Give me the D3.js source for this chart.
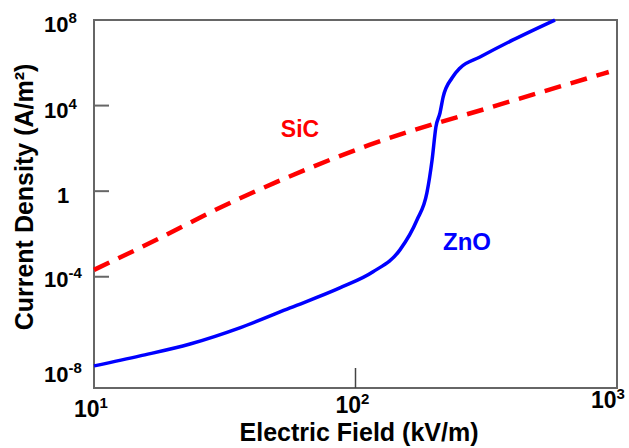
<!DOCTYPE html>
<html>
<head>
<meta charset="utf-8">
<script src="https://cdn.jsdelivr.net/npm/d3@7"></script>
<style>
  body { margin: 0; background: #fff; }
  text { font-family: "Liberation Sans", Arial, sans-serif; font-weight: bold; }
</style>
</head>
<body>
<div id="viz"></div>
<script>
// SiC curve (kV/m, A/m^2)
var sicField = [10, 17.9, 29, 50, 113, 355, 930];
var sicDensity = [2.1e-4, 6.5e-3, 0.13, 2.7, 145, 1.1e4, 3.7e5];

// ZnO curve
var znoField = [10, 15, 23.3, 36.1, 56.2, 87.1, 116.7, 147.9, 171.8, 187.5, 196.3, 203, 210.4, 216.3, 233.9, 251.2, 299.2, 400, 579];
var znoDensity = [6.8e-9, 2.0e-8, 7.2e-8, 4.1e-7, 3.5e-6, 3.0e-5, 1.7e-4, 1.8e-3, 0.045, 0.83, 29, 1e3, 4.5e3, 2.5e4, 1.95e5, 5.75e5, 1.86e6, 1.17e7, 1e8];

// ticks
var xTickVals = [10, 100, 1000];
var xTickExp = ["1", "2", "3"];
var yTickVals = [1e8, 1e4, 1, 1e-4, 1e-8];
var yTickExp = ["8", "4", "", "-4", "-8"];

var width = 629, height = 448;
var margin = {top: 20, right: 12, bottom: 60, left: 94};

var svg = d3.select("#viz")
	.append("svg")
	.attr("width", width)
	.attr("height", height);

var x = d3.scaleLog()
	.domain([10, 1000])
	.range([margin.left, width - margin.right]);

var y = d3.scaleLog()
	.domain([Math.pow(10, -9.2), 1e8])
	.range([height - margin.bottom, margin.top]);

//frame
svg.append("rect")
	.attr("x", x(10))
	.attr("y", y(1e8))
	.attr("width", x(1000) - x(10))
	.attr("height", y.range()[0] - y(1e8))
	.attr("fill", "none")
	.attr("stroke", "#666")
	.attr("stroke-width", 2);

//y ticks, pointing inward
svg.selectAll(".ytick")
	.data(yTickVals.slice(1, 4))
	.enter()
	.append("line")
	.attr("x1", x(10))
	.attr("x2", x(10) + 15)
	.attr("y1", function(d) { return y(d); })
	.attr("y2", function(d) { return y(d); })
	.attr("stroke", "#666")
	.attr("stroke-width", 2);

//x tick at 10^2
svg.append("line")
	.attr("x1", x(100))
	.attr("x2", x(100))
	.attr("y1", y.range()[0])
	.attr("y2", y.range()[0] - 20)
	.attr("stroke", "#444")
	.attr("stroke-width", 1.5);

//y tick labels ("10" left aligned, "1" sits a bit further in)
var yLab = svg.selectAll(".ylab")
	.data(yTickVals)
	.enter()
	.append("text")
	.attr("class", "ylab")
	.attr("x", function(d) { return d === 1 ? 57 : 44; })
	.attr("y", function(d) {
		if (d === 1e-8) return y(d) + 20;
		if (d === 1e-4) return y(d) + 10;
		return y(d) + 12;
	})
	.style("font-size", "22px")
	.attr("fill", "#000");

yLab.each(function(d, i) {
	var t = d3.select(this);
	if (yTickExp[i] === "") {
		t.append("tspan").text("1");
	} else {
		t.append("tspan").text("10");
		t.append("tspan").attr("dy", -9).style("font-size", "15px").text(yTickExp[i]);
	}
});

//x tick labels
var xLab = svg.selectAll(".xlab")
	.data(xTickVals)
	.enter()
	.append("text")
	.attr("class", "xlab")
	.attr("x", function(d) { return d === 1000 ? x(d) - 26 : x(d) - 20; })
	.attr("y", function(d, i) { return 417 - i * 4.5; })
	.style("font-size", "23px");

xLab.each(function(d, i) {
	var t = d3.select(this);
	t.append("tspan").text("10");
	t.append("tspan").attr("dy", -9).style("font-size", "15px").text(xTickExp[i]);
});

//axis titles
svg.append("text")
	.attr("text-anchor", "middle")
	.attr("x", 359)
	.attr("y", 441)
	.style("font-size", "25px")
	.text("Electric Field (kV/m)");

svg.append("text")
	.attr("text-anchor", "middle")
	.attr("transform", "translate(33,197) rotate(-90)")
	.style("font-size", "25px")
	.text("Current Density (A/m\u00b2)");

//curves
var line = d3.line()
	.x(function(d) { return x(d[0]); })
	.y(function(d) { return y(d[1]); })
	.curve(d3.curveMonotoneX);

var sic = sicField.map(function(v, i) { return [v, sicDensity[i]]; });
var zno = znoField.map(function(v, i) { return [v, znoDensity[i]]; });

svg.append("path")
	.datum(zno)
	.attr("d", line)
	.attr("fill", "none")
	.attr("stroke", "#0000ff")
	.attr("stroke-width", 3.5);

svg.append("path")
	.datum(sic)
	.attr("d", line)
	.attr("fill", "none")
	.attr("stroke", "#ff0000")
	.attr("stroke-width", 4.5)
	.attr("stroke-dasharray", "17,10");

//curve labels
svg.append("text")
	.attr("x", 300)
	.attr("y", 137)
	.attr("text-anchor", "middle")
	.attr("fill", "#ff0000")
	.style("font-size", "23px")
	.text("SiC");

svg.append("text")
	.attr("x", 467)
	.attr("y", 250)
	.attr("text-anchor", "middle")
	.attr("fill", "#0000ff")
	.style("font-size", "24px")
	.text("ZnO");
</script>
</body>
</html>
